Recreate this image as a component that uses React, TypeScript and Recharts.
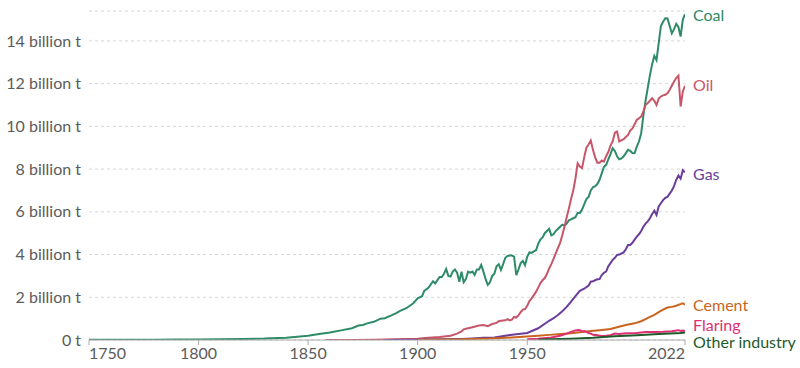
import React from "react";
import { LineChart, Line, XAxis, YAxis, CartesianGrid } from "recharts";

const coal: [number, number][] = [
  [1750, 0.009], [1760, 0.01], [1770, 0.012], [1780, 0.015], [1790, 0.02], [1800, 0.028], [1810, 0.035], [1820, 0.045], [1830, 0.065], [1840, 0.11], [1845, 0.15], [1850, 0.2],
  [1855, 0.28], [1860, 0.35], [1865, 0.45], [1870, 0.55], [1873, 0.68], [1875, 0.7], [1877, 0.78], [1880, 0.85], [1883, 1.0], [1885, 1.02], [1888, 1.15], [1890, 1.25],
  [1892, 1.36], [1895, 1.5], [1898, 1.72], [1900, 1.95], [1902, 2.05], [1903, 2.3], [1905, 2.45], [1907, 2.75], [1908, 2.65], [1910, 2.95], [1911, 2.95], [1912, 3.1],
  [1913, 3.32], [1914, 3.0], [1915, 2.97], [1916, 3.2], [1917, 3.3], [1918, 3.15], [1919, 2.73], [1920, 3.2], [1921, 2.7], [1922, 2.85], [1923, 3.2], [1924, 3.15],
  [1925, 3.2], [1926, 3.05], [1927, 3.3], [1928, 3.3], [1929, 3.51], [1930, 3.2], [1931, 2.85], [1932, 2.58], [1933, 2.7], [1934, 3.0], [1935, 3.1], [1936, 3.45],
  [1937, 3.55], [1938, 3.28], [1939, 3.55], [1940, 3.85], [1941, 3.93], [1942, 3.95], [1943, 3.95], [1944, 3.9], [1945, 3.04], [1946, 3.3], [1947, 3.6], [1948, 3.7],
  [1949, 3.5], [1950, 3.9], [1951, 4.1], [1952, 4.08], [1953, 4.15], [1954, 4.2], [1955, 4.5], [1956, 4.7], [1957, 4.8], [1958, 5.0], [1959, 5.1], [1960, 5.2],
  [1961, 4.9], [1962, 4.95], [1963, 5.1], [1964, 5.2], [1965, 5.3], [1966, 5.4], [1967, 5.35], [1968, 5.45], [1969, 5.6], [1970, 5.65], [1971, 5.7], [1972, 5.75],
  [1973, 5.95], [1974, 5.95], [1975, 6.1], [1976, 6.35], [1977, 6.6], [1978, 6.7], [1979, 7.0], [1980, 7.15], [1981, 7.2], [1982, 7.3], [1983, 7.5], [1984, 7.8],
  [1985, 8.1], [1986, 8.2], [1987, 8.45], [1988, 8.7], [1989, 8.98], [1990, 8.85], [1991, 8.6], [1992, 8.46], [1993, 8.5], [1994, 8.6], [1995, 8.75], [1996, 8.9],
  [1997, 8.85], [1998, 8.75], [1999, 8.74], [2000, 9.05], [2001, 9.29], [2002, 9.68], [2003, 10.5], [2004, 11.2], [2005, 11.8], [2006, 12.4], [2007, 12.9], [2008, 13.3],
  [2009, 13.1], [2010, 13.9], [2011, 14.7], [2012, 14.9], [2013, 15.06], [2014, 15.05], [2015, 14.7], [2016, 14.35], [2017, 14.55], [2018, 14.8], [2019, 14.65], [2020, 14.2],
  [2021, 15.0], [2022, 15.25],
];

const oil: [number, number][] = [
  [1858, 0.0], [1870, 0.002], [1880, 0.01], [1890, 0.03], [1900, 0.06], [1905, 0.1], [1910, 0.14], [1915, 0.2], [1918, 0.3], [1920, 0.4], [1921, 0.5], [1923, 0.55],
  [1925, 0.6], [1928, 0.68], [1930, 0.7], [1932, 0.65], [1934, 0.75], [1936, 0.8], [1937, 0.88], [1938, 0.9], [1940, 0.92], [1941, 0.98], [1942, 0.92], [1943, 0.95],
  [1944, 1.08], [1945, 1.05], [1946, 1.15], [1947, 1.3], [1948, 1.42], [1949, 1.45], [1950, 1.6], [1951, 1.82], [1952, 1.95], [1953, 2.1], [1954, 2.25], [1955, 2.45],
  [1956, 2.65], [1957, 2.8], [1958, 2.9], [1959, 3.1], [1960, 3.35], [1961, 3.55], [1962, 3.8], [1963, 4.05], [1964, 4.3], [1965, 4.55], [1966, 4.9], [1967, 5.3],
  [1968, 5.75], [1969, 6.15], [1970, 6.6], [1971, 7.0], [1972, 7.55], [1973, 8.27], [1974, 8.12], [1975, 8.05], [1976, 8.55], [1977, 9.0], [1978, 9.15], [1979, 9.34],
  [1980, 8.9], [1981, 8.55], [1982, 8.3], [1983, 8.3], [1984, 8.4], [1985, 8.35], [1986, 8.6], [1987, 8.8], [1988, 9.1], [1989, 9.3], [1990, 9.7], [1991, 9.76],
  [1992, 9.29], [1993, 9.35], [1994, 9.4], [1995, 9.5], [1996, 9.6], [1997, 9.8], [1998, 9.9], [1999, 10.1], [2000, 10.3], [2001, 10.38], [2002, 10.46], [2003, 10.7],
  [2004, 11.0], [2005, 11.09], [2006, 11.2], [2007, 11.32], [2008, 11.2], [2009, 11.0], [2010, 11.3], [2011, 11.4], [2012, 11.45], [2013, 11.48], [2014, 11.55], [2015, 11.71],
  [2016, 11.9], [2017, 12.1], [2018, 12.26], [2019, 12.37], [2020, 10.93], [2021, 11.63], [2022, 11.9],
];

const gas: [number, number][] = [
  [1885, 0.005], [1900, 0.01], [1910, 0.03], [1920, 0.05], [1925, 0.07], [1930, 0.1], [1935, 0.12], [1940, 0.2], [1945, 0.27], [1950, 0.33], [1955, 0.55], [1960, 0.9],
  [1962, 1.02], [1964, 1.17], [1966, 1.35], [1968, 1.55], [1970, 1.8], [1972, 2.05], [1974, 2.3], [1976, 2.4], [1978, 2.55], [1979, 2.73], [1980, 2.75], [1982, 2.84],
  [1983, 2.85], [1984, 3.04], [1985, 3.15], [1986, 3.2], [1987, 3.45], [1988, 3.6], [1989, 3.75], [1990, 3.85], [1991, 3.98], [1992, 4.0], [1993, 4.05], [1994, 4.1],
  [1995, 4.25], [1996, 4.45], [1997, 4.45], [1998, 4.55], [1999, 4.7], [2000, 4.84], [2001, 4.95], [2002, 5.1], [2003, 5.3], [2004, 5.45], [2005, 5.55], [2006, 5.7],
  [2007, 5.9], [2008, 6.05], [2009, 5.85], [2010, 6.25], [2011, 6.4], [2012, 6.55], [2013, 6.65], [2014, 6.7], [2015, 6.85], [2016, 7.0], [2017, 7.2], [2018, 7.5],
  [2019, 7.7], [2020, 7.55], [2021, 7.95], [2022, 7.85],
];

const cement: [number, number][] = [
  [1900, 0.005], [1910, 0.02], [1920, 0.03], [1928, 0.06], [1933, 0.07], [1940, 0.1], [1948, 0.15], [1955, 0.2], [1960, 0.24], [1964, 0.27], [1970, 0.32], [1975, 0.37],
  [1979, 0.42], [1983, 0.46], [1988, 0.52], [1991, 0.6], [1995, 0.7], [1999, 0.78], [2002, 0.88], [2004, 0.98], [2006, 1.08], [2008, 1.18], [2010, 1.3], [2012, 1.42],
  [2014, 1.52], [2016, 1.55], [2018, 1.6], [2019, 1.65], [2020, 1.68], [2021, 1.72], [2022, 1.66],
];

const flaring: [number, number][] = [
  [1950, 0.04], [1955, 0.06], [1960, 0.1], [1965, 0.2], [1968, 0.3], [1970, 0.38], [1972, 0.45], [1973, 0.47], [1974, 0.46], [1975, 0.4], [1976, 0.42], [1977, 0.38],
  [1978, 0.33], [1979, 0.3], [1980, 0.25], [1982, 0.22], [1984, 0.19], [1986, 0.2], [1988, 0.22], [1990, 0.3], [1992, 0.28], [1994, 0.3], [1996, 0.32], [2000, 0.33],
  [2004, 0.37], [2008, 0.38], [2012, 0.39], [2014, 0.4], [2016, 0.41], [2018, 0.44], [2019, 0.46], [2020, 0.42], [2021, 0.44], [2022, 0.42],
];

const otherIndustry: [number, number][] = [
  [1955, 0.02], [1960, 0.03], [1970, 0.06], [1980, 0.1], [1990, 0.17], [2000, 0.22], [2010, 0.28], [2015, 0.3], [2020, 0.33], [2022, 0.35],
];

const xTicks = [1750, 1800, 1850, 1900, 1950, 2022];
const yTicks = [0, 2, 4, 6, 8, 10, 12, 14];

const series = [
  { name: "Coal", data: coal, color: "#2e8b67", dy: 1 },
  { name: "Oil", data: oil, color: "#c8566a", dy: 0 },
  { name: "Gas", data: gas, color: "#6a3d9a", dy: 2 },
  { name: "Cement", data: cement, color: "#c8641e", dy: 1 },
  { name: "Flaring", data: flaring, color: "#df2f72", dy: -6 },
  { name: "Other industry", data: otherIndustry, color: "#1f5a2b", dy: 10 },
];

const fmtY = (v: number) => (v === 0 ? "0 t" : `${v} billion t`);

const XTick = (p: any) => {
  const v = p.payload.value;
  const anchor = v === xTicks[0] ? "start" : v === xTicks[xTicks.length - 1] ? "end" : "middle";
  return (
    <text x={p.x} y={p.y} dy="0.71em" textAnchor={anchor} fill="#5b5b5b" fontSize={16} fontFamily="Lato">
      {v}
    </text>
  );
};

export default function App() {
  return (
    <div style={{ position: "absolute", left: 0, top: 0, fontFamily: "Lato, sans-serif" }}>
      <LineChart width={800} height={368} margin={{ top: 11, right: 115, bottom: 0, left: 0 }}>
        <CartesianGrid vertical={false} stroke="#d6d6d6" strokeDasharray="3 3" />
        <XAxis
          type="number"
          dataKey="year"
          domain={[1750, 2022]}
          ticks={xTicks}
          allowDataOverflow
          stroke="#aaa"
          tickSize={5}
          tickMargin={3}
          tick={<XTick />}
          height={28}
        />
        <YAxis
          type="number"
          domain={[0, 15.4]}
          ticks={yTicks}
          allowDataOverflow
          axisLine={false}
          tickLine={false}
          tickSize={0}
          tickMargin={8}
          width={89}
          tickFormatter={fmtY}
          tick={{ fill: "#5b5b5b", fontSize: 16, fontFamily: "Lato" }}
        />
        {series.map((s) => {
          const rows = s.data.map(([year, v]) => ({ year, v }));
          const last = rows.length - 1;
          return (
            <Line
              key={s.name}
              data={rows}
              dataKey="v"
              type="linear"
              stroke={s.color}
              strokeWidth={2}
              dot={false}
              activeDot={false}
              isAnimationActive={false}
              label={(p: any) =>
                p.index === last ? (
                  <text
                    key={s.name}
                    x={p.x + 8}
                    y={p.y + s.dy}
                    dy="0.35em"
                    fill={s.color}
                    fontSize={16}
                    fontFamily="Lato"
                  >
                    {s.name}
                  </text>
                ) : (
                  <g key={p.index} />
                )
              }
            />
          );
        })}
      </LineChart>
    </div>
  );
}
